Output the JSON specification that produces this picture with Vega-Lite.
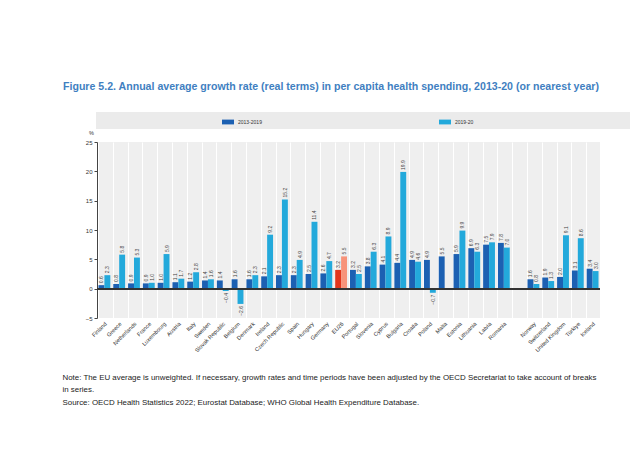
{
  "$schema": "https://vega.github.io/schema/vega-lite/v6.json",
  "width": 503,
  "height": 176,
  "autosize": {"type": "none"},
  "padding": {"left": 97, "top": 142, "right": 30, "bottom": 148},
  "background": "white",
  "config": {
    "view": {"fill": "#efefef", "stroke": null},
    "font": "Liberation Sans"
  },
  "title": {
    "text": "Figure 5.2. Annual average growth rate (real terms) in per capita health spending, 2013-20 (or nearest year)",
    "anchor": "start",
    "fontSize": 10.6,
    "fontWeight": "bold",
    "color": "#3f7fc1",
    "dx": 1,
    "offset": 19
  },
  "data": {
    "values": [
      {"country": "Finland", "period": "2013-2019", "value": 0.6},
      {"country": "Finland", "period": "2019-20", "value": 2.3},
      {"country": "Greece", "period": "2013-2019", "value": 0.8},
      {"country": "Greece", "period": "2019-20", "value": 5.8},
      {"country": "Netherlands", "period": "2013-2019", "value": 0.9},
      {"country": "Netherlands", "period": "2019-20", "value": 5.3},
      {"country": "France", "period": "2013-2019", "value": 0.9},
      {"country": "France", "period": "2019-20", "value": 1.0},
      {"country": "Luxembourg", "period": "2013-2019", "value": 1.0},
      {"country": "Luxembourg", "period": "2019-20", "value": 5.9},
      {"country": "Austria", "period": "2013-2019", "value": 1.1},
      {"country": "Austria", "period": "2019-20", "value": 1.7},
      {"country": "Italy", "period": "2013-2019", "value": 1.2},
      {"country": "Italy", "period": "2019-20", "value": 2.8},
      {"country": "Sweden", "period": "2013-2019", "value": 1.4},
      {"country": "Sweden", "period": "2019-20", "value": 1.6},
      {"country": "Slovak Republic", "period": "2013-2019", "value": 1.4},
      {"country": "Slovak Republic", "period": "2019-20", "value": -0.4},
      {"country": "Belgium", "period": "2013-2019", "value": 1.6},
      {"country": "Belgium", "period": "2019-20", "value": -2.6},
      {"country": "Denmark", "period": "2013-2019", "value": 1.6},
      {"country": "Denmark", "period": "2019-20", "value": 2.3},
      {"country": "Ireland", "period": "2013-2019", "value": 2.1},
      {"country": "Ireland", "period": "2019-20", "value": 9.2},
      {"country": "Czech Republic", "period": "2013-2019", "value": 2.3},
      {"country": "Czech Republic", "period": "2019-20", "value": 15.2},
      {"country": "Spain", "period": "2013-2019", "value": 2.3},
      {"country": "Spain", "period": "2019-20", "value": 4.9},
      {"country": "Hungary", "period": "2013-2019", "value": 2.5},
      {"country": "Hungary", "period": "2019-20", "value": 11.4},
      {"country": "Germany", "period": "2013-2019", "value": 2.6},
      {"country": "Germany", "period": "2019-20", "value": 4.7},
      {"country": "EU26", "period": "2013-2019", "value": 3.2},
      {"country": "EU26", "period": "2019-20", "value": 5.5},
      {"country": "Portugal", "period": "2013-2019", "value": 3.2},
      {"country": "Portugal", "period": "2019-20", "value": 2.5},
      {"country": "Slovenia", "period": "2013-2019", "value": 3.8},
      {"country": "Slovenia", "period": "2019-20", "value": 6.3},
      {"country": "Cyprus", "period": "2013-2019", "value": 4.1},
      {"country": "Cyprus", "period": "2019-20", "value": 8.9},
      {"country": "Bulgaria", "period": "2013-2019", "value": 4.4},
      {"country": "Bulgaria", "period": "2019-20", "value": 19.9},
      {"country": "Croatia", "period": "2013-2019", "value": 4.9},
      {"country": "Croatia", "period": "2019-20", "value": 4.6},
      {"country": "Poland", "period": "2013-2019", "value": 4.9},
      {"country": "Poland", "period": "2019-20", "value": -0.7},
      {"country": "Malta", "period": "2013-2019", "value": 5.5},
      {"country": "Estonia", "period": "2013-2019", "value": 5.9},
      {"country": "Estonia", "period": "2019-20", "value": 9.9},
      {"country": "Lithuania", "period": "2013-2019", "value": 6.9},
      {"country": "Lithuania", "period": "2019-20", "value": 6.3},
      {"country": "Latvia", "period": "2013-2019", "value": 7.5},
      {"country": "Latvia", "period": "2019-20", "value": 7.9},
      {"country": "Romania", "period": "2013-2019", "value": 7.8},
      {"country": "Romania", "period": "2019-20", "value": 7.0},
      {"country": "Norway", "period": "2013-2019", "value": 1.6},
      {"country": "Norway", "period": "2019-20", "value": 0.8},
      {"country": "Switzerland", "period": "2013-2019", "value": 1.9},
      {"country": "Switzerland", "period": "2019-20", "value": 1.3},
      {"country": "United Kingdom", "period": "2013-2019", "value": 2.0},
      {"country": "United Kingdom", "period": "2019-20", "value": 9.1},
      {"country": "Türkiye", "period": "2013-2019", "value": 3.1},
      {"country": "Türkiye", "period": "2019-20", "value": 8.6},
      {"country": "Iceland", "period": "2013-2019", "value": 3.4},
      {"country": "Iceland", "period": "2019-20", "value": 3.0}
    ]
  },
  "transform": [
    {"calculate": "datum.country === 'EU26' ? 'EU ' + datum.period : datum.period", "as": "key"}
  ],
  "encoding": {
    "x": {
      "field": "country",
      "type": "nominal",
      "scale": {
        "domain": ["Finland", "Greece", "Netherlands", "France", "Luxembourg", "Austria", "Italy", "Sweden", "Slovak Republic", "Belgium", "Denmark", "Ireland", "Czech Republic", "Spain", "Hungary", "Germany", "EU26", "Portugal", "Slovenia", "Cyprus", "Bulgaria", "Croatia", "Poland", "Malta", "Estonia", "Lithuania", "Latvia", "Romania", " ", "Norway", "Switzerland", "United Kingdom", "Türkiye", "Iceland"],
        "paddingInner": 0.2,
        "paddingOuter": 0.1
      },
      "axis": {
        "title": ["Note: The EU average is unweighted. If necessary, growth rates and time periods have been adjusted by the OECD Secretariat to take account of breaks", "in series.", "Source: OECD Health Statistics 2022; Eurostat Database; WHO Global Health Expenditure Database."],
        "titleAnchor": "start",
        "titleAlign": "left",
        "titleBaseline": "alphabetic",
        "titleX": -35,
        "titleY": 61,
        "titleFontSize": 7.9,
        "titleFontWeight": "normal",
        "titleColor": "#222",
        "titleLineHeight": 12.5,
        "labelAngle": -45,
        "labelFontSize": 5.6,
        "labelColor": "#2a2a2a",
        "labelPadding": 3,
        "domain": false,
        "ticks": false,
        "grid": true,
        "gridColor": "white",
        "gridWidth": 1,
        "bandPosition": 0
      }
    },
    "xOffset": {
      "field": "period",
      "type": "nominal",
      "scale": {"domain": ["2013-2019", "2019-20"], "paddingInner": 0, "paddingOuter": 0}
    },
    "y": {
      "field": "value",
      "type": "quantitative",
      "scale": {"domain": [-5, 25], "nice": false},
      "axis": {
        "title": "%",
        "titleAngle": 0,
        "titleX": -6,
        "titleY": -7,
        "titleFontSize": 5.5,
        "titleFontWeight": "normal",
        "titleColor": "#333",
        "values": [-5, 0, 5, 10, 15, 20, 25],
        "labelOverlap": false,
        "labelFontSize": 6,
        "labelColor": "#333",
        "tickSize": 3,
        "tickColor": "#444",
        "domainColor": "#444",
        "grid": false
      }
    }
  },
  "layer": [
    {
      "mark": {"type": "bar"},
      "encoding": {
        "color": {
          "field": "key",
          "type": "nominal",
          "scale": {
            "domain": ["2013-2019", "2019-20", "EU 2013-2019", "EU 2019-20"],
            "range": ["#1c60b2", "#23a9db", "#e2361c", "#f7937a"]
          },
          "legend": {
            "values": ["2013-2019", "2019-20"],
            "title": null,
            "orient": "none",
            "legendX": -1,
            "legendY": -30,
            "direction": "horizontal",
            "fillColor": "#ebebeb",
            "padding": 4,
            "symbolType": "M-1,-0.4L1,-0.4L1,0.4L-1,0.4Z",
            "symbolSize": 144,
            "symbolStrokeWidth": 0,
            "symbolOffset": 122,
            "columnPadding": 55,
            "labelFontSize": 5,
            "labelColor": "#333",
            "labelLimit": 400,
            "labelExpr": "datum.label == '2019-20' ? datum.label + '\u2800\u2800\u2800\u2800\u2800\u2800\u2800\u2800\u2800\u2800\u2800\u2800\u2800\u2800\u2800\u2800\u2800\u2800\u2800\u2800\u2800\u2800\u2800\u2800\u2800\u2800\u2800\u2800\u2800\u2800\u2800\u2800\u2800\u2800\u2800\u2800\u2800\u2800\u2800\u2800' : datum.label"
          }
        }
      }
    },
    {
      "transform": [{"filter": "datum.value >= 0"}],
      "mark": {"type": "text", "angle": 270, "align": "left", "baseline": "middle", "dx": 2, "fontSize": 5, "color": "#444"},
      "encoding": {
        "text": {"field": "value", "type": "quantitative", "format": ".1f"}
      }
    },
    {
      "transform": [{"filter": "datum.value < 0"}],
      "mark": {"type": "text", "angle": 270, "align": "right", "baseline": "middle", "dx": -2, "fontSize": 5, "color": "#444"},
      "encoding": {
        "text": {"field": "value", "type": "quantitative", "format": ".1f"}
      }
    },
    {
      "mark": {"type": "rule", "color": "#333", "strokeWidth": 1},
      "encoding": {"y": {"datum": 0}, "x": {"value": 0}, "x2": {"value": 503}, "xOffset": null}
    }
  ]
}
